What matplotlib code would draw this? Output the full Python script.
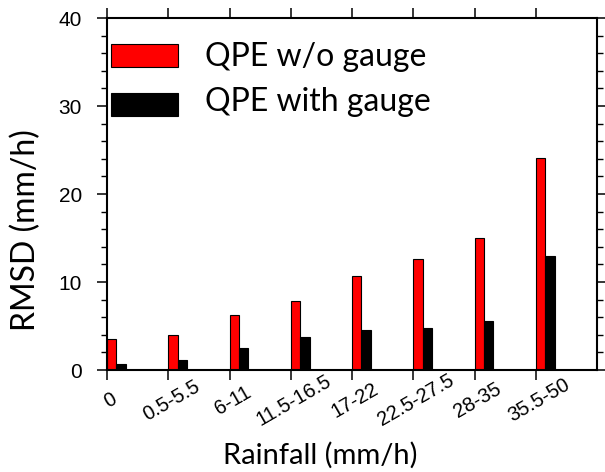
import matplotlib
matplotlib.use("Agg")
import matplotlib.pyplot as plt
from matplotlib.patches import Rectangle
from matplotlib.transforms import ScaledTranslation
import numpy as np

# RMSD by rainfall class
classes = ['0', '0.5-5.5', '6-11', '11.5-16.5', '17-22', '22.5-27.5', '28-35', '35.5-50']
rmsd_no_gauge = [3.5, 4.0, 6.3, 7.8, 10.7, 12.6, 15.0, 24.1]
rmsd_gauge = [0.7, 1.1, 2.5, 3.75, 4.55, 4.8, 5.6, 12.95]

label_font = 'Lato'
tick_font = 'Liberation Sans'

fig = plt.figure(figsize=(6.05, 4.72), dpi=100)
ax = fig.add_axes([107 / 605, 1 - 370 / 472, 490 / 605, 352 / 472])

x = np.arange(len(classes))
w = 0.155
ax.bar(x, rmsd_no_gauge, width=w, align='edge', color='#ff0000',
       edgecolor='black', linewidth=0.8)
ax.bar(x + w, rmsd_gauge, width=w, align='edge', color='black',
       edgecolor='black', linewidth=0.8)

ax.set_xlim(0, 8)
ax.set_ylim(0, 40)
ax.set_xticks(x)
ax.set_xticklabels(classes, fontsize=14.5, family=tick_font, rotation=30,
                   ha='center', va='center', rotation_mode='anchor')
ax.set_yticks(np.arange(0, 41, 10))
ax.set_yticks(np.arange(0, 41, 2), minor=True)
for lab in ax.get_yticklabels():
    lab.set_fontsize(15)
    lab.set_family(tick_font)

for sp in ax.spines.values():
    sp.set_linewidth(1.5)

ax.tick_params(axis='x', which='major', direction='out', length=7, width=1.1,
               top=True, pad=15)
ax.tick_params(axis='y', which='major', direction='out', length=7, width=1.1,
               right=True, pad=11)
ax.tick_params(axis='y', which='minor', direction='out', length=4.5, width=1.0,
               right=True)

# shift rotated labels slightly right
shift = ScaledTranslation(3 / 100, 0, fig.dpi_scale_trans)
for lab in ax.get_xticklabels():
    lab.set_transform(lab.get_transform() + shift)

ax.set_xlabel('Rainfall (mm/h)', fontsize=21, family=label_font, va='center')
ax.xaxis.set_label_coords((320 - 107) / 490, (370 - 455) / 352)
ax.set_ylabel('RMSD (mm/h)', fontsize=23, family=label_font, va='center', ha='center')
ax.yaxis.set_label_coords((26 - 107) / 490, (370 - 230) / 352)

# legend boxes and text
entries = [('QPE w/o gauge', '#ff0000', 0.861, 0.864),
           ('QPE with gauge', 'black', 0.7216, 0.736)]
for text, col, y0, ybase in entries:
    ax.add_patch(Rectangle((0.0082, y0), 0.137, 0.0653, transform=ax.transAxes,
                           facecolor=col, edgecolor='black', linewidth=0.8))
    ax.text(0.2, ybase, text, transform=ax.transAxes, fontsize=23,
            family=label_font, va='baseline', ha='left')

fig.savefig('out.png', dpi=100)
